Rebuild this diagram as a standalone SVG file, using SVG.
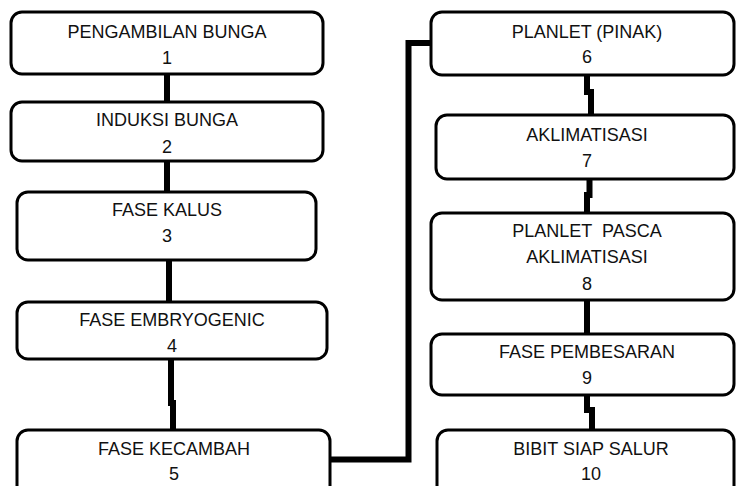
<svg xmlns="http://www.w3.org/2000/svg" width="736" height="486" viewBox="0 0 736 486">
<style>
.box{fill:#fff;stroke:#000;stroke-width:3}
.t{font-family:"Liberation Sans",Arial,sans-serif;font-size:18px;fill:#111;text-anchor:middle}
.c{fill:none;stroke:#000;stroke-width:6;stroke-linejoin:miter}
</style>
<rect width="736" height="486" fill="#fff"/>
<g id="connectors">
<path class="c" d="M167 74V102"/>
<path class="c" d="M167 161V192"/>
<path class="c" d="M169 260V302"/>
<path class="c" d="M171 359V403H173V430"/>
<path class="c" d="M330 459.5H408.5V43H431"/>
<path class="c" d="M587 75V92H591V115"/>
<path class="c" d="M589.5 179V195H587V213"/>
<path class="c" d="M587 300V334"/>
<path class="c" d="M587 395V410H592V430"/>
</g>
<g id="n1"><rect class="box" x="11" y="12" width="312" height="62" rx="11"/><text class="t" x="167" y="38">PENGAMBILAN BUNGA</text><text class="t" x="167" y="64">1</text></g>
<g id="n2"><rect class="box" x="11" y="102" width="312" height="59" rx="11"/><text class="t" x="167" y="126">INDUKSI BUNGA</text><text class="t" x="167" y="153">2</text></g>
<g id="n3"><rect class="box" x="17" y="192" width="299" height="68" rx="11"/><text class="t" x="167" y="216">FASE KALUS</text><text class="t" x="167" y="242">3</text></g>
<g id="n4"><rect class="box" x="17" y="302" width="310" height="57" rx="11"/><text class="t" x="172" y="326">FASE EMBRYOGENIC</text><text class="t" x="172" y="352">4</text></g>
<g id="n5"><rect class="box" x="17" y="430" width="313" height="80" rx="11"/><text class="t" x="174" y="455">FASE KECAMBAH</text><text class="t" x="174" y="480">5</text></g>
<g id="n6"><rect class="box" x="431" y="12" width="303" height="63" rx="11"/><text class="t" x="587" y="38">PLANLET (PINAK)</text><text class="t" x="587" y="63">6</text></g>
<g id="n7"><rect class="box" x="436" y="115" width="298" height="64" rx="11"/><text class="t" x="587" y="141">AKLIMATISASI</text><text class="t" x="587" y="167">7</text></g>
<g id="n8"><rect class="box" x="431" y="213" width="303" height="87" rx="11"/><text class="t" x="587" y="237" style="white-space:pre">PLANLET  PASCA</text><text class="t" x="587" y="263">AKLIMATISASI</text><text class="t" x="587" y="290">8</text></g>
<g id="n9"><rect class="box" x="431" y="334" width="303" height="61" rx="11"/><text class="t" x="587" y="358">FASE PEMBESARAN</text><text class="t" x="587" y="384">9</text></g>
<g id="n10"><rect class="box" x="437" y="430" width="297" height="80" rx="11"/><text class="t" x="591" y="455">BIBIT SIAP SALUR</text><text class="t" x="591" y="480">10</text></g>
</svg>
